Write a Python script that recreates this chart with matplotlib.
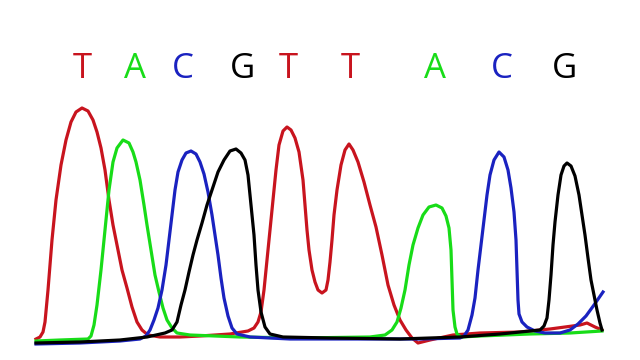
import matplotlib
matplotlib.use("Agg")
import matplotlib.pyplot as plt

# chromatogram traces as (x, y) in pixel units (y grows downward)
red_x = [36, 40, 43, 45, 48, 52, 56, 61, 66, 71, 76, 82, 88, 93, 97, 101, 105, 109, 113, 118,
         122, 127, 132, 137, 142, 148, 160, 180, 200, 230, 248, 254, 258, 261, 264, 267, 270,
         273, 276, 279, 283, 287, 291, 295, 299, 303, 305, 307, 309, 312, 315, 318, 322, 326,
         328, 330, 332, 334, 337, 341, 345, 349, 353, 358, 364, 370, 376, 382, 388, 394, 400,
         406, 412, 418, 430, 453, 480, 520, 550, 580, 587, 595, 602]
red_y = [339, 337, 332, 322, 290, 240, 200, 165, 140, 122, 112, 108, 111, 120, 132, 148, 170,
         200, 225, 250, 270, 288, 307, 322, 330, 335, 337, 337, 336, 334, 331, 328, 322, 312,
         290, 260, 230, 200, 170, 145, 131, 127, 130, 138, 152, 180, 205, 230, 250, 270, 282,
         290, 293, 290, 280, 262, 240, 215, 190, 165, 150, 144, 150, 162, 182, 205, 227, 255,
         285, 305, 320, 330, 338, 343, 340, 335, 333, 332, 329, 325, 323, 327, 330]

green_x = [36, 60, 88, 91, 94, 97, 101, 105, 109, 113, 117, 123, 129, 133, 136, 140, 144, 147,
           151, 155, 159, 163, 167, 172, 177, 190, 215, 240, 300, 370, 385, 392, 397, 401, 405,
           409, 413, 418, 423, 429, 436, 442, 446, 449, 451, 452, 453, 455, 457, 461, 480, 530,
           570, 602]
green_y = [341, 340, 339, 336, 325, 305, 270, 230, 190, 162, 148, 140, 143, 152, 162, 180, 205,
           225, 250, 275, 292, 308, 320, 328, 333, 335, 336, 337, 338, 337, 335, 330, 322, 308,
           290, 265, 245, 228, 215, 207, 205, 208, 216, 228, 250, 280, 310, 327, 334, 337, 336,
           334, 333, 331]

blue_x = [36, 80, 120, 140, 146, 150, 154, 158, 162, 166, 169, 172, 175, 178, 182, 186, 191,
          196, 200, 204, 208, 212, 215, 218, 221, 224, 228, 232, 237, 250, 290, 350, 420, 460,
          464, 468, 472, 475, 478, 481, 484, 487, 490, 494, 499, 504, 508, 511, 514, 516, 517,
          518, 519, 522, 527, 535, 545, 560, 570, 578, 586, 594, 603]
blue_y = [344, 343, 341, 339, 336, 330, 320, 308, 290, 265, 240, 215, 190, 172, 160, 153, 151,
          154, 162, 174, 192, 215, 235, 255, 278, 298, 316, 328, 334, 337, 339, 339, 339, 338,
          336, 330, 315, 298, 270, 245, 220, 195, 175, 160, 152, 157, 170, 188, 212, 240, 270,
          300, 314, 322, 327, 331, 333, 333, 330, 324, 316, 305, 292]

black_x = [36, 80, 120, 147, 165, 172, 177, 181, 185, 189, 193, 197, 202, 207, 212, 218, 224,
           230, 236, 241, 245, 248, 250, 252, 254, 256, 258, 261, 265, 270, 283, 330, 400, 460,
           500, 540, 544, 547, 549, 551, 553, 555, 558, 561, 564, 567, 571, 575, 579, 582, 585,
           588, 591, 594, 597, 600, 602]
black_y = [343, 342, 340, 337, 333, 330, 322, 305, 290, 272, 255, 240, 223, 205, 190, 172, 160,
           151, 149, 153, 160, 175, 195, 215, 235, 265, 290, 312, 327, 334, 337, 338, 339, 337,
           334, 330, 326, 318, 300, 275, 245, 222, 195, 175, 166, 163, 166, 176, 195, 215, 235,
           258, 280, 295, 310, 323, 330]

bases = ["T", "A", "C", "G", "T", "T", "A", "C", "G"]
base_x = [82, 135, 183, 242, 288, 350, 435, 502, 565]

colors = {"T": "#c8141e", "A": "#18dc18", "C": "#1a22c0", "G": "#000000"}

fig = plt.figure(figsize=(6.4, 3.6), dpi=100)
ax = fig.add_axes([0, 0, 1, 1])
ax.set_xlim(0, 640)
ax.set_ylim(360, 0)
ax.axis("off")

lw = 2.3
ax.plot(red_x, red_y, color=colors["T"], lw=lw, solid_joinstyle="round")
ax.plot(green_x, green_y, color=colors["A"], lw=lw, solid_joinstyle="round")
ax.plot(blue_x, blue_y, color=colors["C"], lw=lw, solid_joinstyle="round")
ax.plot(black_x, black_y, color=colors["G"], lw=lw, solid_joinstyle="round")

for b, x in zip(bases, base_x):
    ax.text(x, 69, b, color=colors[b], fontsize=25, family="Open Sans",
            ha="center", va="center")

fig.savefig("out.png", dpi=100)
